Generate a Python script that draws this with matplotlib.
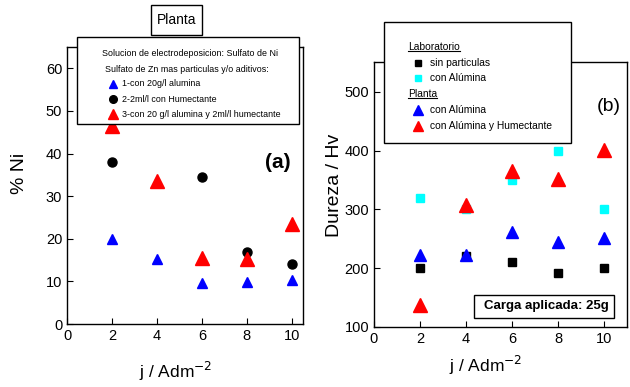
import matplotlib
matplotlib.use("Agg")
import matplotlib.pyplot as plt
from matplotlib.patches import Rectangle
from matplotlib.lines import Line2D

plt.rcParams['font.family'] = ['Liberation Sans', 'DejaVu Sans']

# ---- data panel (a)
x_a = [2, 4, 6, 8, 10]
ni_alumina = [20, 15.3, 9.7, 9.8, 10.3]
x_hum = [2, 6, 8, 10]
ni_humectante = [38, 34.5, 17, 14]
ni_alu_hum = [46.5, 33.5, 15.5, 15.2, 23.5]
labels_a = ["1-con 20g/l alumina", "2-2ml/l con Humectante", "3-con 20 g/l alumina y 2ml/l humectante"]

# ---- data panel (b)
x_b = [2, 4, 6, 8, 10]
lab_sin = [200, 220, 210, 192, 200]
lab_alu = [320, 300, 350, 400, 300]
pl_alu = [222, 222, 262, 245, 252]
pl_alu_hum = [138, 308, 365, 352, 402]
xticks = [0, 2, 4, 6, 8, 10]

W, H = 630, 387
fig = plt.figure(figsize=(6.3, 3.87), dpi=100)

def fx(px): return px / W
def fy(py): return 1 - py / H

axa = fig.add_axes([fx(67), fy(324), fx(303) - fx(67), fy(47) - fy(324)])
axb = fig.add_axes([fx(374), fy(327), fx(627) - fx(374), fy(62) - fy(327)])

for ax in (axa, axb):
    ax.tick_params(direction='in', length=4, labelsize=10.5, width=0.8)
    for s in ax.spines.values():
        s.set_linewidth(1.0)

axa.plot(x_a, ni_alumina, linestyle='none', marker='^', color='blue', ms=7.5, zorder=3)
axa.plot(x_hum, ni_humectante, linestyle='none', marker='o', color='black', ms=6.5, zorder=3)
axa.plot(x_a, ni_alu_hum, linestyle='none', marker='^', color='red', ms=10, zorder=3)
axa.set_xlim(0, 10.5)
axa.set_ylim(0, 65)
axa.set_xticks(xticks)
axa.set_yticks([0, 10, 20, 30, 40, 50, 60])
axa.set_xlabel("j / Adm$^{-2}$", fontsize=12.5)
axa.xaxis.set_label_coords(0.46, -0.13)
axa.set_ylabel("% Ni", fontsize=14)
axa.yaxis.set_label_coords(-0.165, 0.545)
axa.text(9.38, 37.8, "(a)", fontsize=15, fontweight='bold', ha='center', va='center')

axb.plot(x_b, lab_sin, linestyle='none', marker='s', color='black', ms=5.5, zorder=3)
axb.plot(x_b, lab_alu, linestyle='none', marker='s', color='cyan', ms=5.5, zorder=3)
axb.plot(x_b, pl_alu, linestyle='none', marker='^', color='blue', ms=8, zorder=3)
axb.plot(x_b, pl_alu_hum, linestyle='none', marker='^', color='red', ms=10, zorder=3)
axb.set_xlim(0, 11)
axb.set_ylim(100, 551)
axb.set_xticks(xticks)
axb.set_yticks([100, 200, 300, 400, 500])
axb.set_xlabel("j / Adm$^{-2}$", fontsize=12.5)
axb.xaxis.set_label_coords(0.44, -0.10)
axb.set_ylabel("Dureza / Hv", fontsize=14)
axb.yaxis.set_label_coords(-0.122, 0.536)
axb.text(10.2, 475, "(b)", fontsize=14, ha='center', va='center')

# ---- "Planta" title box
fig.add_artist(Rectangle((fx(151), fy(35)), fx(202) - fx(151), fy(5) - fy(35),
                         transform=fig.transFigure, facecolor='white', edgecolor='black', lw=1.0))
fig.text(fx(176.5), fy(20), "Planta", fontsize=10, ha='center', va='center')

# ---- legend (a)
fig.add_artist(Rectangle((fx(77), fy(124)), fx(299) - fx(77), fy(37) - fy(124),
                         transform=fig.transFigure, facecolor='white', edgecolor='black', lw=1.0, zorder=5))
fs = 6.4
fig.text(fx(190), fy(54), "Solucion de electrodeposicion: Sulfato de Ni", fontsize=fs, ha='center', va='center', zorder=6)
fig.text(fx(187), fy(69), "Sulfato de Zn mas particulas y/o aditivos:", fontsize=fs, ha='center', va='center', zorder=6)
mk_a = [('^', 'blue', 6), ('o', 'black', 5.5), ('^', 'red', 7)]
for i, (lab, (m, c, s)) in enumerate(zip(labels_a, mk_a)):
    yy = fy(84 + 15 * i)
    fig.add_artist(Line2D([fx(113)], [yy], marker=m, color=c, ms=s, linestyle='none',
                          transform=fig.transFigure, zorder=6))
    fig.text(fx(122), yy, lab, fontsize=fs, ha='left', va='center', zorder=6)

# ---- legend (b)
fig.add_artist(Rectangle((fx(384), fy(143)), fx(571) - fx(384), fy(22) - fy(143),
                         transform=fig.transFigure, facecolor='white', edgecolor='black', lw=1.0, zorder=5))
fsb = 7.4
rows = [("Laboratorio", None), ("sin particulas", ('s', 'black', 5)), ("con Alúmina", ('s', 'cyan', 5)),
        ("Planta", None), ("con Alúmina", ('^', 'blue', 6.5)), ("con Alúmina y Humectante", ('^', 'red', 7))]
ys = [47, 63, 78, 94, 110, 126]
hdr_texts = []
for yv, (lab, mk) in zip(ys, rows):
    yy = fy(yv)
    if mk is None:
        t = fig.text(fx(408), yy, lab, fontsize=fsb, ha='left', va='center', zorder=6)
        hdr_texts.append(t)
    else:
        m, c, s = mk
        fig.add_artist(Line2D([fx(418)], [yy], marker=m, color=c, ms=s, linestyle='none',
                              transform=fig.transFigure, zorder=6))
        fig.text(fx(430), yy, lab, fontsize=fsb, ha='left', va='center', zorder=6)

fig.canvas.draw()
r = fig.canvas.get_renderer()
for t in hdr_texts:
    bb = t.get_window_extent(r).transformed(fig.transFigure.inverted())
    y0 = bb.y0 + 0.003
    fig.add_artist(Line2D([bb.x0, bb.x1], [y0, y0], color='black', lw=0.8,
                          transform=fig.transFigure, zorder=6))

# ---- Carga aplicada box
fig.add_artist(Rectangle((fx(474), fy(318)), fx(614) - fx(474), fy(295) - fy(318),
                         transform=fig.transFigure, facecolor='white', edgecolor='black', lw=1.0, zorder=5))
fig.text(fx(546), fy(306.5), "Carga aplicada: 25g", fontsize=9.5, fontweight='bold', ha='center', va='center', zorder=6)

fig.savefig("out.png", dpi=100)
